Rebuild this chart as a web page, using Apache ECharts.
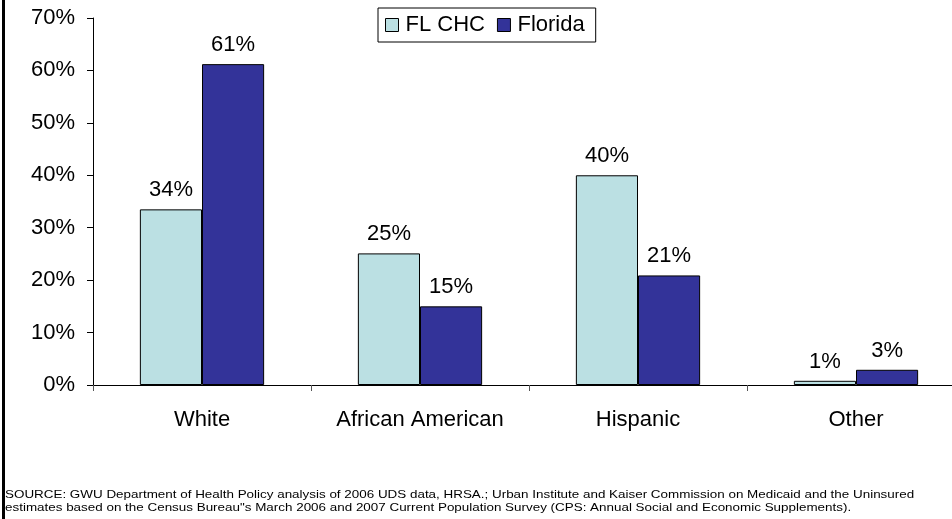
<!DOCTYPE html>
<html><head><meta charset="utf-8">
<script src="https://cdn.jsdelivr.net/npm/echarts@6/dist/echarts.min.js"></script>
<style>html,body{margin:0;padding:0;background:#fff;overflow:hidden;width:952px;height:519px}#c{width:965px;height:519px}</style>
</head><body><div id="c"></div>
<script>
const categories = ['White', 'African American', 'Hispanic', 'Other'];
const flChc = [33.5, 25.1, 40.0, 0.8];
const florida = [61.2, 15.0, 20.9, 2.9];
const seriesNames = ['FL CHC', 'Florida'];
const sourceLines = [
  'SOURCE: GWU Department of Health Policy analysis of 2006 UDS data, HRSA.; Urban Institute and Kaiser Commission on Medicaid and the Uninsured',
  'estimates based on the Census Bureau"s March 2006 and 2007 Current Population Survey (CPS: Annual Social and Economic Supplements).'
];
const font = 'Liberation Sans, Arial, sans-serif';
const chart = echarts.init(document.getElementById('c'));
const lbl = {show: true, position: 'top', distance: 8, color: '#000', fontSize: 22, fontFamily: font,
  formatter: p => Math.round(p.value) + '%'};
chart.setOption({
  animation: false,
  grid: {left: 93, right: 0, top: 18, bottom: 134, containLabel: false},
  legend: {
    top: 8, left: 378, itemWidth: 13, itemHeight: 13, itemGap: 12,
    padding: [6, 11, 6, 7], borderColor: '#000', borderWidth: 1,
    textStyle: {fontSize: 22, fontFamily: font, color: '#000', padding: [0, 0, 0, 2]},
    data: seriesNames.map(n => ({name: n, icon: 'rect', itemStyle: {borderColor: '#000', borderWidth: 1}}))
  },
  xAxis: {
    type: 'category', data: categories,
    axisLine: {lineStyle: {color: '#000', width: 1}},
    axisTick: {show: true, length: 6, lineStyle: {color: '#555'}},
    axisLabel: {interval: 0, fontSize: 22, fontFamily: font, color: '#000', margin: 24}
  },
  yAxis: {
    type: 'value', min: 0, max: 70, interval: 10,
    axisLine: {show: true, lineStyle: {color: '#000'}},
    axisTick: {show: true, length: 6, lineStyle: {color: '#000'}},
    splitLine: {show: false},
    axisLabel: {fontSize: 22, fontFamily: font, color: '#000', margin: 18, formatter: '{value}%'}
  },
  series: [
    {name: seriesNames[0], type: 'bar', data: flChc, barGap: '0%', barCategoryGap: '43%',
     itemStyle: {color: '#BBE0E3', borderColor: '#000', borderWidth: 1}, label: lbl},
    {name: seriesNames[1], type: 'bar', data: florida,
     itemStyle: {color: '#333399', borderColor: '#000', borderWidth: 1}, label: lbl}
  ],
  graphic: [
    {type: 'rect', shape: {x: 2, y: 0, width: 3, height: 519}, style: {fill: '#000'}},
    {type: 'text', x: 5, y: 489, scaleX: 1.278, style: {text: sourceLines.join('\n'), fontSize: 10.5, lineHeight: 13, fontFamily: font, fill: '#000'}}
  ]
});
</script></body></html>
